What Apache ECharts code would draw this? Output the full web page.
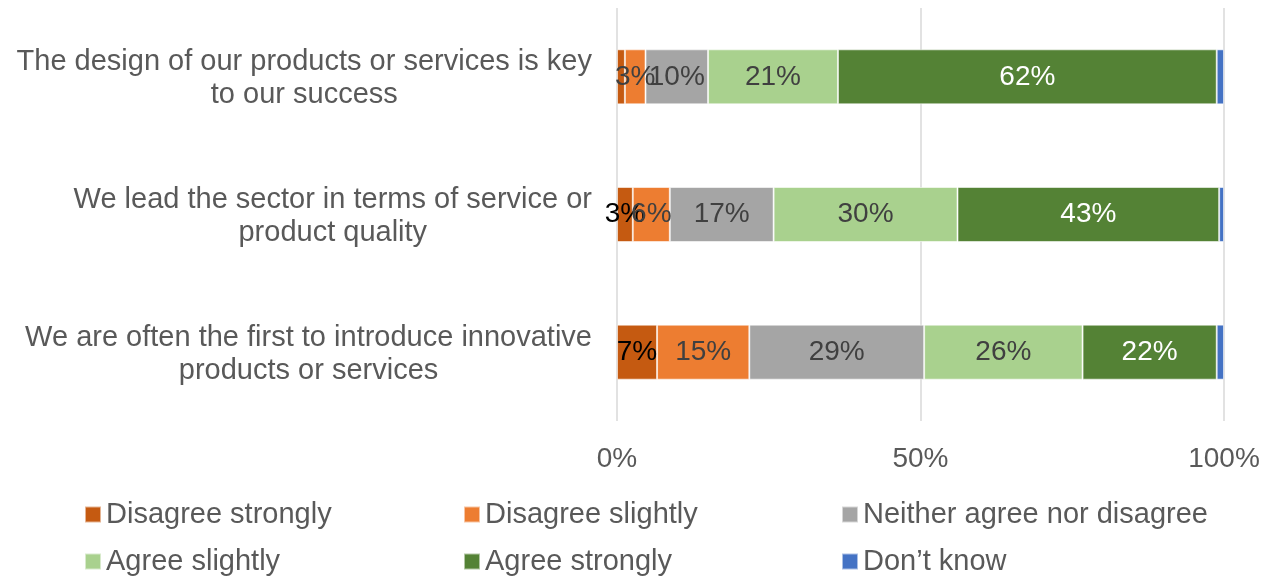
<!DOCTYPE html>
<html>
<head>
<meta charset="utf-8">
<script src="https://cdn.jsdelivr.net/npm/echarts@6/dist/echarts.min.js"></script>
<style>
  html, body { margin: 0; padding: 0; background: #fff; }
  #chart { width: 1279px; height: 583px; }
</style>
</head>
<body>
<div id="chart"></div>
<script>
// Survey statements (top to bottom)
const categories = [
  'The design of our products or services is key\nto our success',
  'We lead the sector in terms of service or\nproduct quality',
  'We are often the first to introduce innovative\nproducts or services'
];

// Share of respondents per answer, in percent, one value per statement
const disagreeStrongly = [1.3, 2.6, 6.6];
const disagreeSlightly = [3.4, 6.1, 15.2];
const neitherAgree     = [10.3, 17.1, 28.8];
const agreeSlightly    = [21.4, 30.3, 26.1];
const agreeStrongly    = [62.4, 43.1, 22.1];
const dontKnow         = [1.2, 0.8, 1.2];

const axisTicks = [0, 50, 100];

const FONT = '"Liberation Sans", Arial, sans-serif';
const FS_TEXT = 29;   // category and legend text
const FS_NUM = 28;    // tick and value labels

const seriesDefs = [
  { name: 'Disagree strongly', data: disagreeStrongly, color: '#C55A11', labelColor: '#000000', hideLabelAt: [0] },
  { name: 'Disagree slightly', data: disagreeSlightly, color: '#ED7D31', labelColor: '#404040' },
  { name: 'Neither agree nor disagree', data: neitherAgree, color: '#A5A5A5', labelColor: '#404040' },
  { name: 'Agree slightly', data: agreeSlightly, color: '#A9D18E', labelColor: '#404040' },
  { name: 'Agree strongly', data: agreeStrongly, color: '#548235', labelColor: '#ffffff' },
  { name: "Don\u2019t know", data: dontKnow, color: '#4472C4', labelColor: '#404040', noLabel: true }
];

const series = seriesDefs.map(d => ({
  name: d.name,
  type: 'bar',
  stack: 'total',
  barWidth: 55,
  itemStyle: { color: d.color, borderColor: 'rgba(255,255,255,0.55)', borderWidth: 1 },
  label: {
    show: !d.noLabel,
    position: 'inside',
    color: d.labelColor,
    fontFamily: FONT,
    fontSize: FS_NUM,
    formatter: p => Math.round(p.value) + '%'
  },
  emphasis: { disabled: true },
  data: d.data.map((v, i) => (d.hideLabelAt && d.hideLabelAt.includes(i))
    ? { value: v, label: { show: false } }
    : v)
}));

// Legend: three fixed columns, two rows
const legendCols = [84, 463, 841];
const legendRows = [500, 547];
const legends = seriesDefs.map((d, i) => ({
  orient: 'horizontal',
  left: legendCols[i % 3],
  top: legendRows[Math.floor(i / 3)],
  padding: 0,
  itemWidth: 16,
  itemHeight: 16,
  icon: 'rect',
  selectedMode: false,
  data: [d.name],
  textStyle: { fontFamily: FONT, fontSize: FS_TEXT, color: '#595959' }
}));

const option = {
  animation: false,
  backgroundColor: '#ffffff',
  grid: { left: 617, right: 55, top: 8, bottom: 162, containLabel: false },
  legend: legends,
  xAxis: {
    type: 'value',
    min: axisTicks[0],
    max: axisTicks[axisTicks.length - 1],
    interval: axisTicks[1] - axisTicks[0],
    axisLine: { show: false },
    axisTick: { show: false },
    splitLine: { show: true, lineStyle: { color: '#D9D9D9', width: 1.5 } },
    axisLabel: {
      margin: 24,
      fontFamily: FONT,
      fontSize: FS_NUM,
      color: '#595959',
      formatter: v => v + '%'
    }
  },
  yAxis: {
    type: 'category',
    inverse: true,
    data: categories,
    axisLine: { show: false },
    axisTick: { show: false },
    axisLabel: {
      margin: 25,
      align: 'right',
      padding: [4, 0, 0, 0],
      // lines centred on each other, block anchored to the right
      formatter: v => v.split('\n').map(s => '{c|' + s + '}').join('\n'),
      rich: {
        c: {
          align: 'center',
          fontFamily: FONT,
          fontSize: FS_TEXT,
          lineHeight: 33,
          color: '#595959'
        }
      }
    }
  },
  series: series
};

const chart = echarts.init(document.getElementById('chart'), null, { renderer: 'canvas' });
chart.setOption(option);
</script>
</body>
</html>
